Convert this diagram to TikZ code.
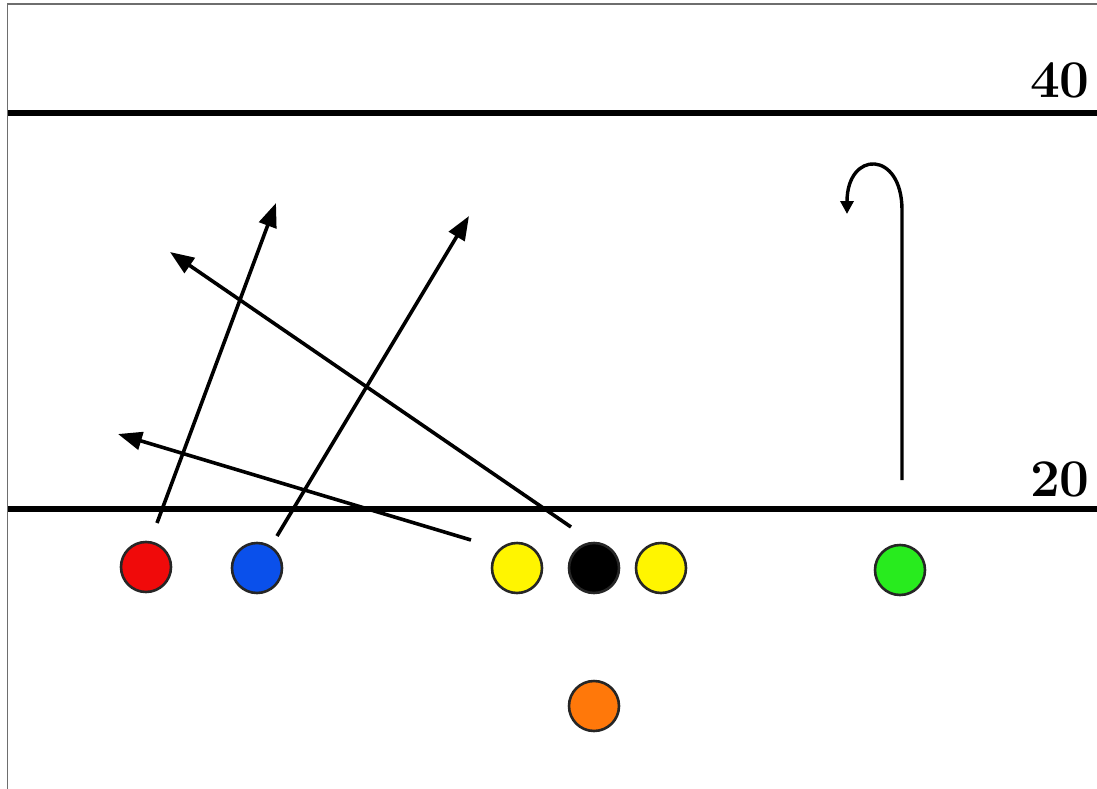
\documentclass[tikz,border=0pt]{standalone}
\usetikzlibrary{arrows.meta}
\definecolor{pred}{RGB}{240,10,10}
\definecolor{pblue}{RGB}{10,80,235}
\definecolor{pyellow}{RGB}{255,245,0}
\definecolor{pgreen}{RGB}{40,235,30}
\definecolor{porange}{RGB}{255,120,10}
\definecolor{frame}{RGB}{110,110,110}
\tikzset{
  player/.style={circle, draw=black!85, line width=2.6pt, minimum size=50pt, inner sep=0pt},
  yardline/.style={line width=5.5pt},
  route/.style={line width=3.6pt, -{Triangle[length=24pt,width=18pt]}},
  yardnum/.style={font=\fontsize{53}{53}\selectfont\bfseries, inner sep=0pt, anchor=base east},
}
\begin{document}
\begin{tikzpicture}[x=1pt,y=-1pt]
\useasboundingbox (0,0) rectangle (1097,789);
\draw[frame, line width=1.5pt] (7.5,789) -- (7.5,4) -- (1097,4);
% yard lines
\draw[yardline] (8,113) -- (1097,113);
\draw[yardline] (8,509) -- (1097,509);
\node[yardnum] (n40) at (1090,98) {40};
\node[yardnum] (n20) at (1090,496) {20};
% players
\node[player, fill=pred] (red) at (146,567) {};
\node[player, fill=pblue] (blue) at (257,568) {};
\node[player, fill=pyellow] (ly) at (517,568) {};
\node[player, fill=black] (ctr) at (594,568) {};
\node[player, fill=pyellow] (ry) at (661,568) {};
\node[player, fill=pgreen] (grn) at (900,570) {};
\node[player, fill=porange] (qb) at (594,706) {};
% route start/end points
\coordinate (rs) at (157,523);
\coordinate (re) at (276,203);
\coordinate (bs) at (277,536);
\coordinate (be) at (469,216);
\coordinate (ys) at (471,540);
\coordinate (ye) at (118,434);
\coordinate (cs) at (571,527);
\coordinate (ce) at (170,252);
\coordinate (gs) at (902,480);
\coordinate (gt) at (902,210);
\coordinate (ge) at (847,214);
% routes
\draw[route] (rs) -- (re);
\draw[route] (bs) -- (be);
\draw[route] (ys) -- (ye);
\draw[route] (cs) -- (ce);
\draw[line width=3.4pt, -{Triangle[length=13pt,width=13pt]}] (gs) -- (gt) .. controls (902,150) and (847,150) .. (ge);
\end{tikzpicture}
\end{document}
